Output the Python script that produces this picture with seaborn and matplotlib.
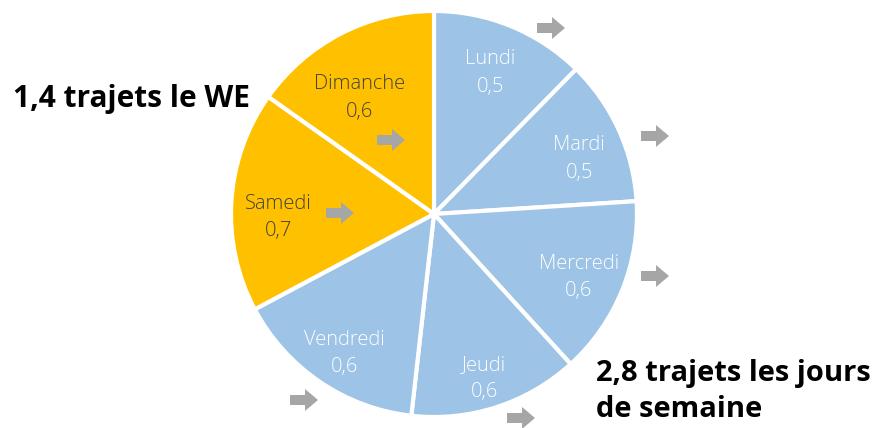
import matplotlib
matplotlib.use("Agg")
import matplotlib.pyplot as plt
from matplotlib.patches import FancyArrow
import numpy as np
import seaborn as sns

# ---- data ----
days = ["Lundi", "Mardi", "Mercredi", "Jeudi", "Vendredi", "Samedi", "Dimanche"]
trips = [0.52, 0.49, 0.60, 0.57, 0.65, 0.74, 0.64]
value_labels = ["0,5", "0,5", "0,6", "0,6", "0,6", "0,7", "0,6"]
weekend = [False, False, False, False, False, True, True]
note_we = "1,4 trajets le WE"
note_week = "2,8 trajets les jours\nde semaine"

sns.set_theme(style="white")
plt.rcParams['font.family'] = ['Open Sans', 'DejaVu Sans']

BLUE = "#9DC3E6"
YELLOW = "#FFC000"
GRAY = "#A6A6A6"

W, H = 880, 428
fig = plt.figure(figsize=(W / 100, H / 100), dpi=100)
ax = fig.add_axes([0, 0, 1, 1])

cx, cy, R = 434, H - 214, 203
colors = [YELLOW if w else BLUE for w in weekend]
wedges, texts = ax.pie(
    trips, colors=colors, startangle=90, counterclock=False,
    center=(cx, cy), radius=R,
    labels=[f"{d}\n{v}" for d, v in zip(days, value_labels)],
    labeldistance=0.77,
    wedgeprops=dict(edgecolor="white", linewidth=3),
    textprops=dict(fontsize=14.5, fontweight="light"),
)
# label placement: radius fraction and angular nudge (deg, clockwise) per slice
label_r = [0.763, 0.770, 0.772, 0.833, 0.803, 0.768, 0.690]
label_da = [-0.8, 2.9, 0.6, 0.7, -1.0, -3.75, -4.5]
for t, w, wd, lr, da in zip(texts, weekend, wedges, label_r, label_da):
    mid = np.deg2rad((wd.theta1 + wd.theta2) / 2 - da)
    t.set_position((cx + lr * R * np.cos(mid), cy - 3 + lr * R * np.sin(mid)))
    t.set_ha("center")
    t.set_va("center")
    t.set_linespacing(1.5)
    t.set_color("#404040" if w else "white")

# decorative arrows (left x, centre y in image pixels)
arrows = [(537, 28), (641, 136), (641, 276), (507, 418), (290, 400), (326, 213), (377, 140)]
for x, y in arrows:
    ax.add_patch(FancyArrow(x, H - y, 28, 0, width=10, head_width=22, head_length=13,
                            length_includes_head=True, color=GRAY, linewidth=0))

ax.text(13, H - 107, note_we, fontsize=21.5, fontweight="bold", color="black",
        ha="left", va="baseline")
ax.text(596, H - 417, note_week, fontsize=21, fontweight="bold", color="black",
        ha="left", va="baseline", linespacing=1.34)

ax.set_xlim(0, W)
ax.set_ylim(0, H)
ax.set_aspect("equal")
ax.axis("off")
fig.savefig("out.png", dpi=100, facecolor="white")
